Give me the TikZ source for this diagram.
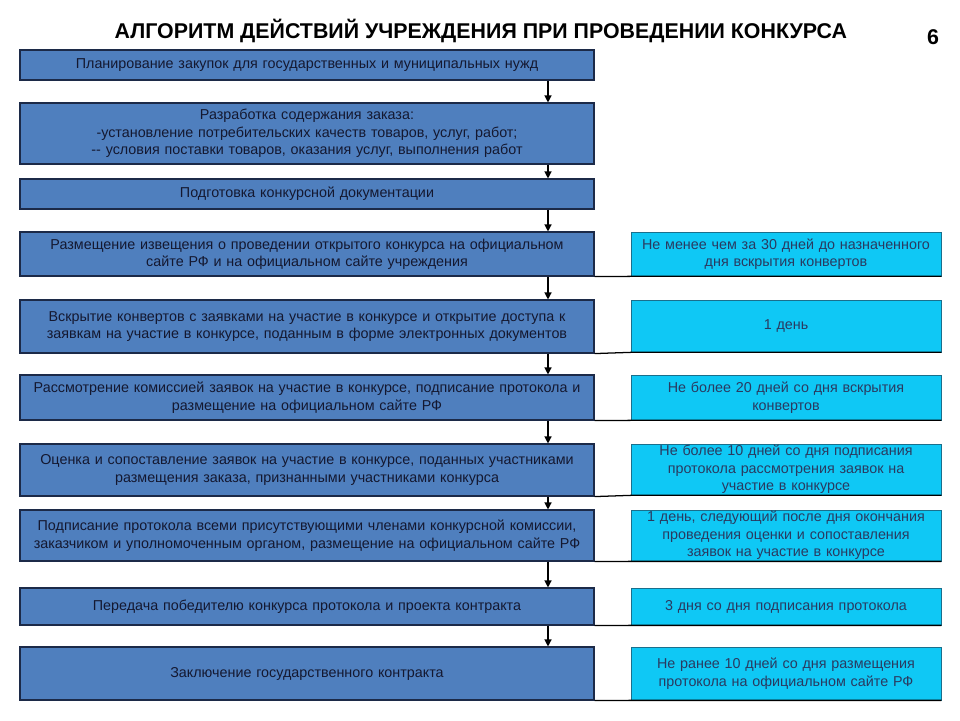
\documentclass[tikz,border=0pt]{standalone}
\usepackage{fontspec}
\setmainfont{Liberation Sans}
\usepackage{tikz}
\usetikzlibrary{arrows.meta}
\definecolor{stepblue}{HTML}{4F7FBE}
\definecolor{stepedge}{HTML}{1C2A48}
\definecolor{steptext}{HTML}{141830}
\definecolor{termcyan}{HTML}{0FC8F5}
\definecolor{termedge}{HTML}{1A6F8C}
\definecolor{termtext}{HTML}{2A3A60}

\begin{document}
\begin{tikzpicture}[
    x=1cm, y=1cm,
    stepbox/.style={
        fill=stepblue, draw=stepedge, line width=0.8pt,
        text=steptext, font=\fontsize{10.2}{12.4}\selectfont,
        align=center, minimum width=14.35cm, text width=14cm,
        inner sep=0pt
    },
    termbox/.style={
        fill=termcyan, draw=termedge, line width=0.5pt,
        text=termtext, font=\fontsize{10.2}{12.4}\selectfont,
        align=center, minimum width=7.75cm, text width=7.5cm,
        inner sep=0pt
    },
    flowarrow/.style={-{Triangle[length=5pt,width=5pt]}, line width=0.9pt, black},
    tieline/.style={line width=0.9pt, black}
]
\useasboundingbox (0,0) rectangle (24,-18);
\fill[white] (0,0) rectangle (24,-18);

% title
\node[font=\bfseries\fontsize{15.2}{17}\selectfont, text=black] (title) at (12.02,-0.775)
    {АЛГОРИТМ ДЕЙСТВИЙ УЧРЕЖДЕНИЯ ПРИ ПРОВЕДЕНИИ КОНКУРСА};
\node[font=\bfseries\fontsize{15.2}{17}\selectfont, text=black] (pagenum) at (23.325,-0.925) {6};

% main steps
\node[stepbox, minimum height=0.75cm] (plan) at (7.675,-1.625)
    {Планирование закупок для государственных и муниципальных нужд};
\node[stepbox, minimum height=1.525cm] (order) at (7.675,-3.3375)
    {Разработка содержания заказа:\\-установление потребительских качеств товаров, услуг, работ;\\-{}- условия поставки товаров, оказания услуг, выполнения работ};
\node[stepbox, minimum height=0.75cm] (docs) at (7.675,-4.85)
    {Подготовка конкурсной документации};
\node[stepbox, minimum height=1.1cm] (notice) at (7.675,-6.35)
    {Размещение извещения о проведении открытого конкурса на официальном\\сайте РФ и на официальном сайте учреждения};
\node[stepbox, minimum height=1.325cm] (opening) at (7.675,-8.1625)
    {Вскрытие конвертов с заявками на участие в конкурсе и открытие доступа к\\заявкам на участие в конкурсе, поданным в форме электронных документов};
\node[stepbox, minimum height=1.125cm] (review) at (7.675,-9.9375)
    {Рассмотрение комиссией заявок на участие в конкурсе, подписание протокола и\\размещение на официальном сайте РФ};
\node[stepbox, minimum height=1.3cm] (rating) at (7.675,-11.75)
    {Оценка и сопоставление заявок на участие в конкурсе, поданных участниками\\размещения заказа, признанными участниками конкурса};
\node[stepbox, minimum height=1.275cm] (signing) at (7.675,-13.3875)
    {Подписание протокола всеми присутствующими членами конкурсной комиссии,\\заказчиком и уполномоченным органом, размещение на официальном сайте РФ};
\node[stepbox, minimum height=0.925cm] (handover) at (7.675,-15.1625)
    {Передача победителю конкурса протокола и проекта контракта};
\node[stepbox, minimum height=1.325cm] (contract) at (7.675,-16.8375)
    {Заключение государственного контракта};

% deadlines
\node[termbox, minimum height=1.1cm] (tnotice) at (19.65,-6.35)
    {Не менее чем за 30 дней до назначенного\\дня вскрытия конвертов};
\node[termbox, minimum height=1.3cm] (topening) at (19.65,-8.15)
    {1 день};
\node[termbox, minimum height=1.125cm] (treview) at (19.65,-9.9375)
    {Не более 20 дней со дня вскрытия\\конвертов};
\node[termbox, minimum height=1.275cm] (trating) at (19.65,-11.7375)
    {Не более 10 дней со дня подписания\\протокола рассмотрения заявок на\\участие в конкурсе};
\node[termbox, minimum height=1.275cm] (tsigning) at (19.65,-13.3875)
    {1 день, следующий после дня окончания\\проведения оценки и сопоставления\\заявок на участие в конкурсе};
\node[termbox, minimum height=0.925cm] (thandover) at (19.65,-15.1625)
    {3 дня со дня подписания протокола};
\node[termbox, minimum height=1.325cm] (tcontract) at (19.65,-16.8375)
    {Не ранее 10 дней со дня размещения\\протокола на официальном сайте РФ};

% arrows
\coordinate (axis) at (13.7,0);
\foreach \a/\b in {plan/order, order/docs, docs/notice, notice/opening, opening/review,
                   review/rating, rating/signing, signing/handover, handover/contract}
    \draw[flowarrow] (\a.south -| axis) -- (\b.north -| axis);

% ties to deadlines
\foreach \a/\b in {notice/tnotice, opening/topening, review/treview, rating/trating,
                   signing/tsigning, handover/thandover, contract/tcontract}
    \draw[tieline] (\a.south east) -- (\b.south west) -- (\b.south east);
\end{tikzpicture}
\end{document}
